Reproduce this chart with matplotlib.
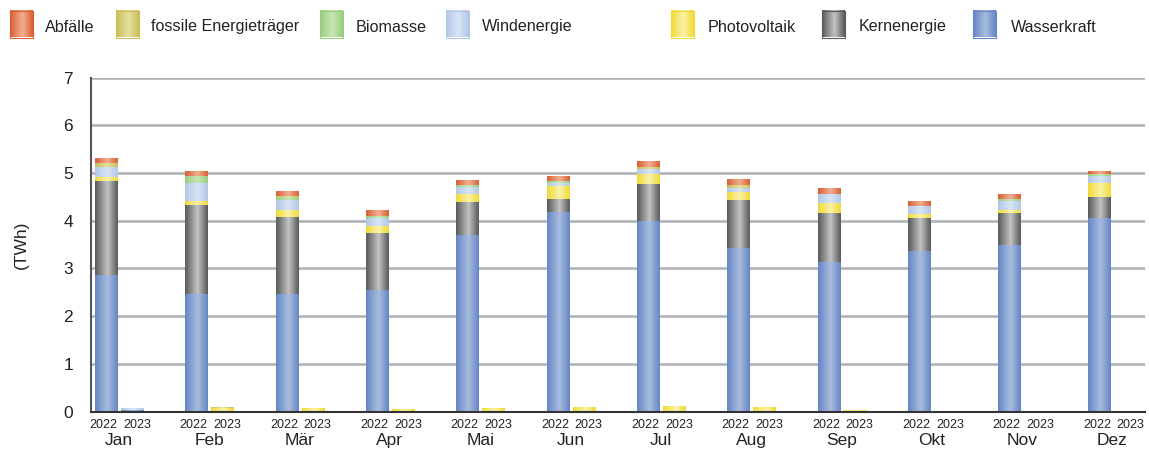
import numpy as np
import matplotlib
matplotlib.use('Agg')
import matplotlib.pyplot as plt
from matplotlib.colors import LinearSegmentedColormap
from matplotlib.patches import Rectangle
from matplotlib.transforms import ScaledTranslation

plt.rcParams['font.family'] = ['Liberation Sans', 'DejaVu Sans']

# Monatswerte (TWh), von unten nach oben gestapelt
months = ['Jan', 'Feb', 'Mär', 'Apr', 'Mai', 'Jun', 'Jul', 'Aug', 'Sep', 'Okt', 'Nov', 'Dez']
years = ['2022', '2023']

wasser_2022 = [2.87, 2.47, 2.47, 2.55, 3.70, 4.19, 4.00, 3.43, 3.14, 3.37, 3.49, 4.06]
kern_2022 = [1.97, 1.85, 1.61, 1.20, 0.69, 0.27, 0.76, 1.00, 1.03, 0.69, 0.67, 0.44]
pv_2022 = [0.07, 0.09, 0.15, 0.13, 0.17, 0.27, 0.21, 0.17, 0.21, 0.08, 0.06, 0.28]
wind_2022 = [0.22, 0.39, 0.21, 0.17, 0.155, 0.07, 0.105, 0.085, 0.17, 0.17, 0.19, 0.15]
bio_2022 = [0.0, 0.13, 0.05, 0.04, 0.035, 0.035, 0.0, 0.0, 0.0, 0.0, 0.04, 0.04]
fossil_2022 = [0.07, 0.0, 0.035, 0.0, 0.0, 0.0, 0.04, 0.055, 0.0, 0.0, 0.0, 0.0]
abfall_2022 = [0.085, 0.085, 0.085, 0.105, 0.085, 0.085, 0.125, 0.105, 0.105, 0.085, 0.085, 0.055]

wasser_2023 = [0.03, 0.02, 0.01, 0.01, 0.02, 0.02, 0.0, 0.0, 0.0, 0.0, 0.0, 0.0]
kern_2023 = [0.0] * 12
pv_2023 = [0.01, 0.05, 0.06, 0.04, 0.05, 0.08, 0.11, 0.09, 0.03, 0.0, 0.0, 0.0]
wind_2023 = [0.04, 0.01, 0.0, 0.0, 0.0, 0.0, 0.0, 0.0, 0.0, 0.0, 0.0, 0.0]
bio_2023 = [0.0] * 12
fossil_2023 = [0.0, 0.02, 0.0, 0.0, 0.0, 0.0, 0.0, 0.0, 0.0, 0.0, 0.0, 0.0]
abfall_2023 = [0.0] * 12

names = ['Wasserkraft', 'Kernenergie', 'Photovoltaik', 'Windenergie', 'Biomasse',
         'fossile Energieträger', 'Abfälle']
series_2022 = [wasser_2022, kern_2022, pv_2022, wind_2022, bio_2022, fossil_2022, abfall_2022]
series_2023 = [wasser_2023, kern_2023, pv_2023, wind_2023, bio_2023, fossil_2023, abfall_2023]

# Verlauf: Randfarbe, Mittelfarbe
shades = {
    'Wasserkraft': ('#6587c5', '#a9bcdf'),
    'Kernenergie': ('#585b5b', '#c3c4c2'),
    'Photovoltaik': ('#f1da35', '#f9f2aa'),
    'Windenergie': ('#b2c7e7', '#d9e5f4'),
    'Biomasse': ('#98cd80', '#c8e6b8'),
    'fossile Energieträger': ('#c8bf5c', '#e7e09e'),
    'Abfälle': ('#da5f35', '#f0b090'),
}
cmaps = {k: LinearSegmentedColormap.from_list(k, [(0, a), (0.55, b), (1, a)]) for k, (a, b) in shades.items()}
grad = np.linspace(0, 1, 64).reshape(1, -1)

fig = plt.figure(figsize=(11.49, 4.49), dpi=100)
ax = fig.add_axes([91 / 1149, (449 - 411.7) / 449, (1145 - 91) / 1149, (411.7 - 77.5) / 449])

x = np.arange(len(months))
off = 0.144
width = 0.244

for pos, series in [(x - off, series_2022), (x + off, series_2023)]:
    bottom = np.zeros(len(months))
    for name, vals in zip(names, series):
        vals = np.array(vals)
        bars = ax.bar(pos, vals, width, bottom=bottom, color=shades[name][1], linewidth=0, zorder=2)
        for b in bars:
            if b.get_height() <= 0:
                continue
            bx, by, bw, bh = b.get_x(), b.get_y(), b.get_width(), b.get_height()
            ax.imshow(grad, extent=[bx, bx + bw, by, by + bh], aspect='auto',
                      cmap=cmaps[name], zorder=3, interpolation='bilinear')
        bottom += vals

ax.set_xlim(-0.31, 11.36)
ax.set_ylim(0, 7)
ax.set_yticks(range(8))
ax.yaxis.grid(True, color='#adb1b5', linewidth=1.8)
ax.set_axisbelow(True)
for lbl in ax.get_yticklabels():
    lbl.set_transform(lbl.get_transform() + ScaledTranslation(0, -6 / 100, fig.dpi_scale_trans))
ax.tick_params(axis='y', length=0, pad=13, labelsize=12.5, colors='#222222')

# Jahreslabels etwas weiter auseinander als die Balken
year_pos = np.sort(np.concatenate([x - 0.172, x + 0.2]))
ax.set_xticks(year_pos)
ax.set_xticklabels(years * len(months))
ax.set_xticks(x, minor=True)
ax.set_xticklabels(months, minor=True)
ax.tick_params(axis='x', which='major', length=0, pad=5, labelsize=9, colors='#222222')
ax.tick_params(axis='x', which='minor', length=0, pad=15, labelsize=12.5, colors='#222222')

ax.set_ylabel('(TWh)', fontsize=12.5, color='#222222', labelpad=25)
for s in ['top', 'right']:
    ax.spines[s].set_visible(False)
ax.spines['left'].set_color('#555555')
ax.spines['left'].set_linewidth(1.5)
ax.spines['bottom'].set_color('#333333')
ax.spines['bottom'].set_linewidth(1.5)
ax.spines['bottom'].set_zorder(5)

# Legende oben, in Pixelkoordinaten
lax = fig.add_axes([0, 0, 1, 1])
lax.set_xlim(0, 1149)
lax.set_ylim(449, 0)
lax.axis('off')
legend_order = ['Abfälle', 'fossile Energieträger', 'Biomasse', 'Windenergie',
                'Photovoltaik', 'Kernenergie', 'Wasserkraft']
handle_x = [10, 116, 320, 446, 671, 822, 973]
text_x = [45, 151, 356, 482, 708, 859, 1011]
for name, hx, tx in zip(legend_order, handle_x, text_x):
    lax.imshow(grad, extent=[hx, hx + 23, 37.5, 11], aspect='auto', cmap=cmaps[name],
               interpolation='bilinear')
    lax.add_patch(Rectangle((hx, 11), 23, 26.5, fill=False, edgecolor=shades[name][0], linewidth=0.8))
    lax.text(tx, 27, name, fontsize=11.6, va='center', ha='left', color='#222222')
lax.set_xlim(0, 1149)
lax.set_ylim(449, 0)

fig.savefig('out.png', dpi=100)
